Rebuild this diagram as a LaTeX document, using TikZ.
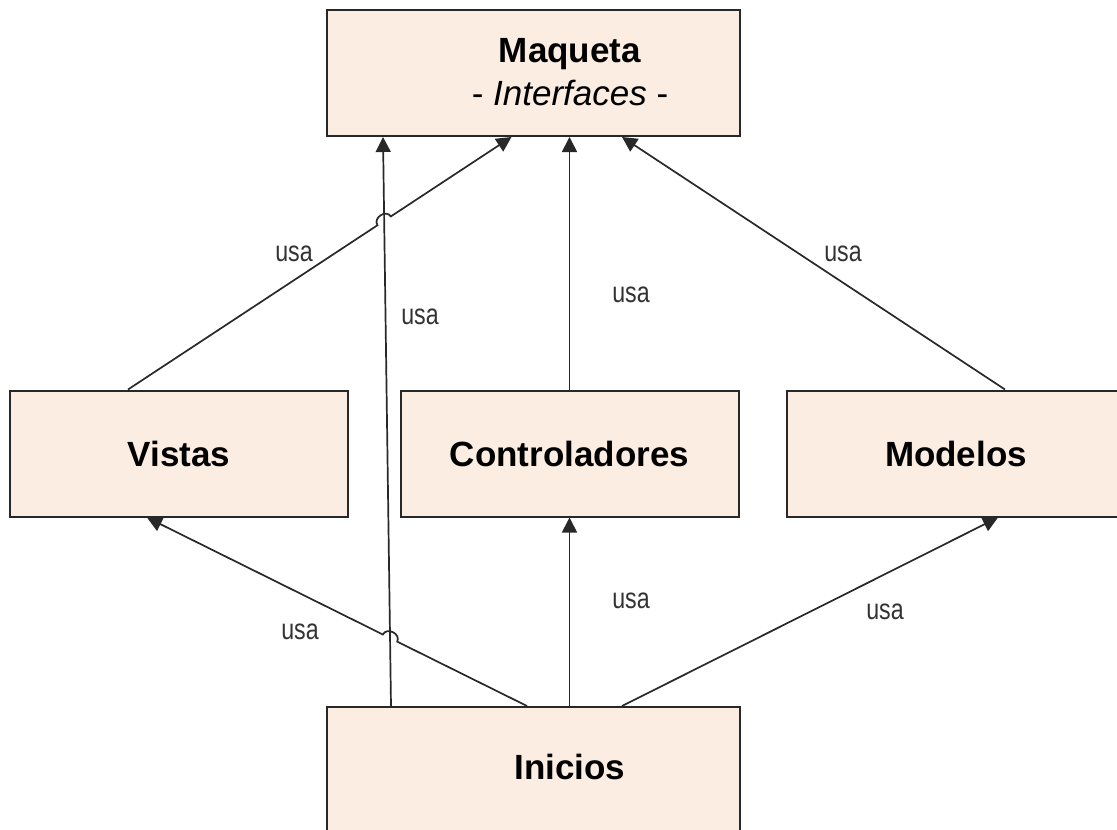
\documentclass[tikz,border=0pt]{standalone}
\usepackage{fontspec}
\setmainfont{Liberation Sans}
\newfontfamily\usafont[FakeStretch=0.8]{Liberation Sans}
\usetikzlibrary{arrows.meta,calc,intersections}
\definecolor{boxfill}{RGB}{252,237,226}
\definecolor{linegray}{RGB}{40,40,40}
\tikzset{
  caja/.style={draw=linegray,line width=2pt,fill=boxfill,minimum width=338pt,
    minimum height=126pt,inner sep=0pt,font=\bfseries\fontsize{35}{43}\selectfont},
  usa/.style={draw=linegray,line width=1.7pt,-{Triangle[length=15pt,width=15pt]}},
  etiq/.style={font=\usafont\fontsize{29}{30}\selectfont,text=black!80}
}

\begin{document}
\begin{tikzpicture}[x=1pt,y=1pt]
  \useasboundingbox (0,0) rectangle (1117,-830);
  % cajas
  \node[caja,minimum width=413pt] (maq) at (533.5,-73) {};
  \node[font=\fontsize{35}{43}\selectfont,align=center] (maqtxt) at (570,-72)
    {\textbf{Maqueta}\\- \textit{Interfaces} -};
  \node[caja] (vis) at (179,-453.5) {Vistas};
  \node[caja] (con) at (569.5,-453.5) {Controladores};
  \node[caja] (mod) at (956,-453.5) {Modelos};
  \node[caja,minimum width=413pt,minimum height=127pt] (ini) at (533.5,-770.5) {};
  \node[font=\bfseries\fontsize{35}{43}\selectfont] (initxt) at (570,-767) {Inicios};

  % puntos de llegada
  \coordinate (vis1) at ([xshift=-51pt]vis.north);
  \coordinate (maq1) at ([xshift=-22pt]maq.south);
  \coordinate (ini1) at ([xshift=-142.5pt]ini.north);
  \coordinate (maq2) at ([xshift=-150.5pt]maq.south);
  \coordinate (ini2) at ([xshift=-6.5pt]ini.north);
  \coordinate (vis2) at ([xshift=-32pt]vis.south);

  % saltos
  \path[name path=largo] (ini1) -- (maq2);
  \path[name path=vm] (vis1) -- (maq1);
  \path[name path=iv] (ini2) -- (vis2);
  \path[name intersections={of=largo and vm,by=s1}];
  \path[name intersections={of=largo and iv,by=s2}];

  \draw[usa] (vis1) -- ($(s1)!8pt!(vis1)$) to[bend left=90,looseness=1.4]
    ($(s1)!8pt!(maq1)$) -- (maq1);
  \draw[usa] (ini1) -- (maq2);
  \draw[usa] (con.north) -- (con.north |- maq.south);
  \draw[usa] ([xshift=49pt]mod.north) -- ([xshift=88.5pt]maq.south);
  \draw[usa] (ini2) -- ($(s2)!8pt!(ini2)$) to[bend right=90,looseness=1.4]
    ($(s2)!8pt!(vis2)$) -- (vis2);
  \draw[usa] (con.south |- ini.north) -- (con.south);
  \draw[usa] ([xshift=88.5pt]ini.north) -- ([xshift=42pt]mod.south);

  % etiquetas
  \node[etiq] (u1) at (294,-254) {usa};
  \node[etiq] (u2) at (420,-317) {usa};
  \node[etiq] (u3) at (631,-295) {usa};
  \node[etiq] (u4) at (843,-254) {usa};
  \node[etiq] (u5) at (300,-632) {usa};
  \node[etiq] (u6) at (631,-601) {usa};
  \node[etiq] (u7) at (885,-612) {usa};
\end{tikzpicture}
\end{document}
